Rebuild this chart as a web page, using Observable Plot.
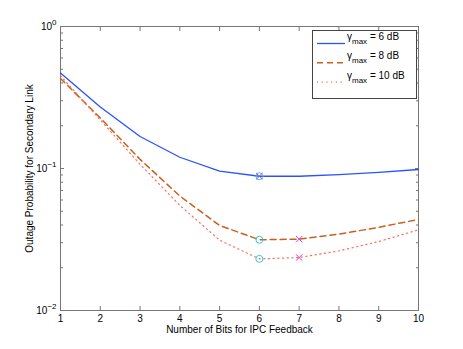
<!DOCTYPE html>
<html><head><meta charset="utf-8">
<script src="https://cdn.jsdelivr.net/npm/d3@7"></script>
<script src="https://cdn.jsdelivr.net/npm/@observablehq/plot@0.6"></script>
<style>
body{margin:0;background:#fff;}
#wrap{position:relative;width:463px;height:349px;font-family:"Liberation Sans",Arial,Helvetica,sans-serif;}
#legend{position:absolute;left:312px;top:30px;}
</style></head>
<body><div id="wrap"><div id="chart"></div><svg id="legend" width="106" height="70"></svg></div>
<script>
const bits = [1,2,3,4,5,6,7,8,9,10];
const g6  = [0.47, 0.271, 0.168, 0.120, 0.0957, 0.0882, 0.0882, 0.0905, 0.094, 0.0984];
const g8  = [0.43, 0.227, 0.116, 0.064, 0.0397, 0.0315, 0.0318, 0.0345, 0.0385, 0.0438];
const g10 = [0.45, 0.220, 0.107, 0.055, 0.0313, 0.0231, 0.0236, 0.0263, 0.0306, 0.0370];
const seriesNames = ["= 6 dB", "= 8 dB", "= 10 dB"];
const colors = ["#2a52ff", "#c8601e", "#ff6a50"];
const circleBits = [6, 6, 6];
const timesBits = [6, 7, 7];
const yMajor = [0.01, 0.1, 1];
const yMinor = [0.02,0.03,0.04,0.05,0.06,0.07,0.08,0.09,0.2,0.3,0.4,0.5,0.6,0.7,0.8,0.9];
const xLabel = "Number of Bits for IPC Feedback";
const yLabel = "Outage Probability for Secondary Link";

const all = [g6, g8, g10];
const rows = all.map((s, k) => bits.map((b, i) => ({b, v: s[i], k})));
const circles = all.map((s, k) => ({b: circleBits[k], v: s[bits.indexOf(circleBits[k])]}));
const times = all.map((s, k) => ({b: timesBits[k], v: s[bits.indexOf(timesBits[k])]}));
const supFmt = d => "10^" + Math.round(Math.log10(d));

const chart = Plot.plot({
  width: 463, height: 349,
  marginLeft: 60, marginRight: 45, marginTop: 26, marginBottom: 39,
  style: {fontFamily: "'Liberation Sans', Arial, sans-serif", fontSize: "10px", background: "#fff", color: "#000"},
  x: {domain: [1, 10], label: null},
  y: {type: "log", domain: [0.01, 1], label: null},
  marks: [
    Plot.frame({stroke: "#777"}),
    Plot.axisX({anchor: "bottom", ticks: bits, tickSize: -4, tickPadding: 8, tickFormat: d => String(d), label: null, stroke: "#777", fontSize: 10}),
    Plot.axisX({anchor: "top", ticks: bits, tickSize: -4, tickFormat: () => "", label: null, stroke: "#777"}),
    Plot.axisY({anchor: "left", ticks: yMajor, tickSize: -4, tickPadding: 8, tickFormat: supFmt, label: null, stroke: "#777", fontSize: 10}),
    Plot.axisY({anchor: "left", ticks: yMinor, tickSize: -3, tickFormat: () => "", label: null, stroke: "#777"}),
    Plot.axisY({anchor: "right", ticks: yMajor, tickSize: -4, tickFormat: () => "", label: null, stroke: "#777"}),
    Plot.axisY({anchor: "right", ticks: yMinor, tickSize: -3, tickFormat: () => "", label: null, stroke: "#777"}),
    Plot.text([xLabel], {frameAnchor: "bottom", dy: 22.5, fontSize: 10}),
    Plot.text([yLabel], {frameAnchor: "left", textAnchor: "middle", dx: -31, rotate: -90, fontSize: 10}),
    Plot.line(rows[0], {x: "b", y: "v", stroke: colors[0], strokeWidth: 1.3}),
    Plot.line(rows[1], {x: "b", y: "v", stroke: colors[1], strokeWidth: 1.5, strokeDasharray: "6,4"}),
    Plot.line(rows[2], {x: "b", y: "v", stroke: colors[2], strokeWidth: 1.2, strokeDasharray: "1.2,3.5"}),
    Plot.dot(circles, {x: "b", y: "v", r: 3.5, stroke: "#2cd0d0", strokeWidth: 1}),
    Plot.dot(times, {x: "b", y: "v", r: 3, symbol: "times", stroke: "#d040d0", strokeWidth: 1})
  ]
});
document.getElementById("chart").appendChild(chart);

// superscript exponents in y tick labels
chart.querySelectorAll("text").forEach(t => {
  const s = t.textContent;
  const m = /^10\^(-?\d+)$/.exec(s);
  if (m) {
    const e = m[1].replace("-", "\u2212");
    t.textContent = "";
    const ns = "http://www.w3.org/2000/svg";
    const a = document.createElementNS(ns, "tspan"); a.textContent = "10";
    const b = document.createElementNS(ns, "tspan"); b.textContent = e;
    b.setAttribute("dy", "-5"); b.setAttribute("font-size", "8");
    t.appendChild(a); t.appendChild(b);
  }
});

// legend
const lg = d3.select("#legend");
lg.append("rect").attr("x", 0.5).attr("y", 0.5).attr("width", 104).attr("height", 68)
  .attr("fill", "#fff").attr("stroke", "#444");
const dashes = [null, "6,4", "1.2,3.5"];
const widths = [1.3, 1.5, 1.2];
seriesNames.forEach((n, k) => {
  const cy = 13.5 + k * 19.3;
  lg.append("line").attr("x1", 5).attr("x2", 33).attr("y1", cy).attr("y2", cy)
    .attr("stroke", colors[k]).attr("stroke-width", widths[k]).attr("stroke-dasharray", dashes[k]);
  const t = lg.append("text").attr("x", 35).attr("y", cy - 3.5).attr("font-size", 10)
    .attr("font-family", "'Liberation Sans', Arial, sans-serif");
  t.append("tspan").text("\u03b3");
  t.append("tspan").attr("dy", 4).attr("font-size", 8).text("max");
  t.append("tspan").attr("dy", -4).text(" " + n);
});
</script></body></html>
